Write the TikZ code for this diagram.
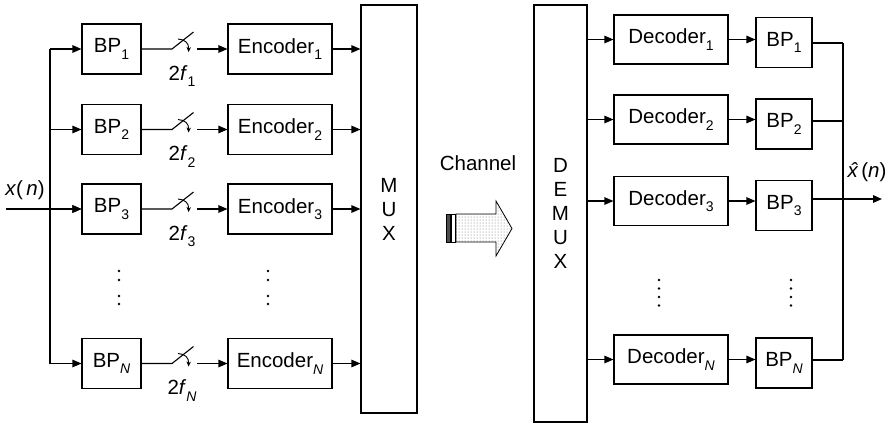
\documentclass[tikz,border=0pt]{standalone}
\usepackage{fontspec}
\setmainfont{Liberation Sans}
\usetikzlibrary{arrows.meta,patterns}
\newcommand\sbs[1]{\raisebox{-0.3em}{\fontsize{14}{14}\selectfont #1}}
\begin{document}
\begin{tikzpicture}[x=1pt,y=-1pt,
  font=\fontsize{20.5}{24}\selectfont,
  box/.style={draw, line width=1.1pt, inner sep=0pt},
  arr/.style={-{Triangle[length=9pt,width=7.5pt]}, line width=1.1pt},
  ln/.style={line width=1.1pt},
  thk/.style={line width=1.6pt},
  swarr/.style={line width=0.9pt, -{Stealth[length=5pt,width=4.5pt]}}]
\useasboundingbox (0,0) rectangle (894,424);
% MUX / DEMUX
\node[box, minimum width=56pt, minimum height=408pt, align=center] (mux) at (389,209) {M\\U\\X};
\node[box, minimum width=53pt, minimum height=417pt, align=center] (demux) at (560.5,213.5) {D\\E\\M\\U\\X};
% left branches
\foreach \i/\y/\s in {1/49/1, 2/129.5/2, 3/209/3, 4/363.5/\textit{N}} {
  \node[box, minimum width=59pt, minimum height=50pt] (bp\i) at (111.5,\y) {BP\sbs{\s}};
  \node[box, minimum width=104pt, minimum height=50pt] (enc\i) at (280,\y) {Encoder\sbs{\s}};
  \coordinate (bus\i) at (50,\y);
  \coordinate (s\i) at (172,\y);
  \coordinate (t\i) at (197,\y);
  \draw[arr] (bus\i) -- (bp\i.west);
  \draw[ln] (bp\i.east) -- (s\i) -- ++(21.5,-17);
  \draw[swarr] (178,\y-10) .. controls (185,\y-9.5) and (189,\y-6) .. (188.5,\y+3);
  \draw[arr] (t\i) -- (enc\i.west);
  \draw[arr] (enc\i.east) -- (enc\i.east -| mux.west);
  \node (f\i) at (182,\y+27) {2\textit{f}\sbs{\s}};
}
\draw[ln] (bus1) -- (bus4);
\coordinate (in) at (6,209);
\draw[arr] (in) -- (bp3.west);
\node (xn) at (25,190) {\textit{x}(\,\textit{n})};
% dots left
\foreach \xx in {119,268} \foreach \yy in {271,280,296,304} \fill (\xx,\yy) circle (1.3pt);
% channel
\node (ch) at (478,163) {Channel};
\filldraw[line width=0.6pt, fill=gray!60!black] (446,214) rectangle (450,242);
\draw[line width=0.6pt] (451,214) rectangle (455,242);
\draw[line width=0.8pt, pattern=dots, pattern color=gray!80!black] (456,214) -- (496,214) -- (496,201) -- (512,228.5) -- (496,256) -- (496,242) -- (456,242) -- cycle;
% right branches
\foreach \i/\y/\b/\o/\s in {1/39.5/42.5/43/1, 2/119.5/124/121/2, 3/201/205.5/199/3, 4/359.5/363/360/\textit{N}} {
  \node[box, minimum width=114pt, minimum height=49pt] (dec\i) at (671,\y) {Decoder\sbs{\s}};
  \node[box, minimum width=56pt, minimum height=50pt] (bpr\i) at (784,\b) {BP\sbs{\s}};
  \draw[arr] (dec\i.west -| demux.east) -- (dec\i.west);
  \draw[arr] (dec\i.east) -- (dec\i.east -| bpr\i.west);
  \coordinate (o\i) at (843,\o);
}
\foreach \i in {1,2,4} \draw[thk] (bpr\i.east |- o\i) -- (o\i);
\draw[thk] (o1) -- (o4);
\coordinate (out) at (882,199);
\draw[thk, -{Triangle[length=9pt,width=7.5pt]}] (bpr3.east |- o3) -- (out);
\node (xhat) at (867,172) {\textit{\^{x}}(\textit{n})};
% dots right
\foreach \xx in {659,791} \foreach \yy in {280,288.5,297,305.5} \fill (\xx,\yy) circle (1.3pt);
\end{tikzpicture}
\end{document}
